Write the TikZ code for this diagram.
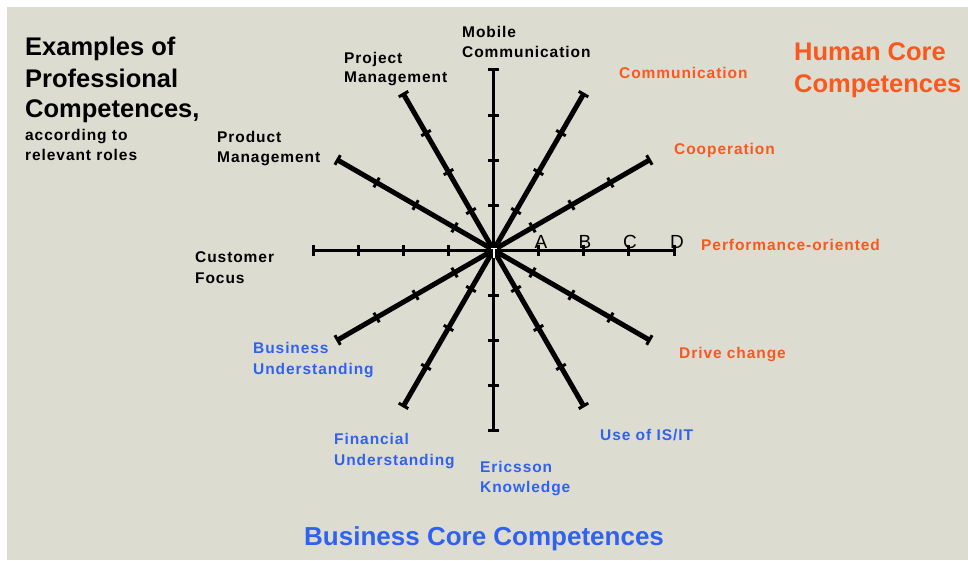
\documentclass[tikz,border=0pt]{standalone}
\usepackage{fontspec}
\setmainfont{Liberation Sans}
\definecolor{bg}{RGB}{221,220,209}
\definecolor{hc}{RGB}{250,88,28}
\definecolor{bc}{RGB}{48,98,240}
\tikzset{
  lbl/.style={anchor=base west, inner sep=0pt, font=\fontsize{15.5}{20}\selectfont\bfseries\addfontfeature{LetterSpace=6}},
  ttl/.style={anchor=base west, inner sep=0pt, font=\fontsize{25.5}{31}\selectfont\bfseries},
  axisline/.style={line width=3pt},
  diagline/.style={line width=5pt},
  tk/.style={line width=3pt},
  grade/.style={anchor=base, inner sep=0pt, font=\fontsize{19}{19}\selectfont}
}
\begin{document}
\begin{tikzpicture}[x=1pt,y=-1pt]
\useasboundingbox (0,0) rectangle (968,560);
\fill[white] (0,0) rectangle (968,560);
\fill[bg] (7,7) rectangle (968,560);
\coordinate (c) at (493.5,250);
% diagonal spokes
\foreach \a in {30,60,120,150,210,240,300,330} {
  \begin{scope}[shift={(c)},rotate=\a]
    \coordinate (e\a) at (180,0);
    \draw[diagline] (0,0) -- (e\a);
    \foreach \r in {45,90,135,180} \draw[tk] (\r,-5.5) -- (\r,5.5);
  \end{scope}
}
% axes
\foreach \a in {0,90,180,270} {
  \begin{scope}[shift={(c)},rotate=\a]
    \coordinate (e\a) at (180.5,0);
    \draw[axisline] (0,0) -- (e\a);
    \foreach \r in {45,90,135,180.5} \draw[tk] (\r,-5.5) -- (\r,5.5);
  \end{scope}
}
% white mark at the centre
\draw[white, line width=1.5pt] (491,248.5) -- (497,248.5);
\draw[white, line width=1.5pt] (494,248.5) -- (494,258);
% grades
\node[grade] (gA) at (541,248) {A};
\node[grade] (gB) at (585,248) {B};
\node[grade] (gC) at (630,248) {C};
\node[grade] (gD) at (677,248) {D};
% titles
\node[ttl] (t1) at (25,55) {Examples of};
\node[ttl] (t2) at (25,87) {Professional};
\node[ttl] (t3) at (25,117) {Competences,};
\node[lbl] (t4) at (25,140) {according to};
\node[lbl] (t5) at (25,160) {relevant roles};
\node[ttl, text=hc] (h1) at (794,60) {Human Core};
\node[ttl, text=hc] (h2) at (794,92) {Competences};
\node[ttl, text=bc, font=\fontsize{26}{31}\selectfont\bfseries] (b1) at (304,545) {Business Core Competences};
% professional labels
\node[lbl] (mob1) at (462,37) {Mobile};
\node[lbl] (mob2) at (462,57) {Communication};
\node[lbl] (prj1) at (344,63) {Project};
\node[lbl] (prj2) at (344,82) {Management};
\node[lbl] (prd1) at (217,142) {Product};
\node[lbl] (prd2) at (217,162) {Management};
\node[lbl] (cus1) at (195,262) {Customer};
\node[lbl] (cus2) at (195,283) {Focus};
% business labels
\node[lbl, text=bc] (bus1) at (253,353) {Business};
\node[lbl, text=bc] (bus2) at (253,374) {Understanding};
\node[lbl, text=bc] (fin1) at (334,444) {Financial};
\node[lbl, text=bc] (fin2) at (334,465) {Understanding};
\node[lbl, text=bc] (eri1) at (480,472) {Ericsson};
\node[lbl, text=bc] (eri2) at (480,492) {Knowledge};
\node[lbl, text=bc] (use1) at (600,440) {Use of IS/IT};
% human labels
\node[lbl, text=hc] (drv) at (679,358) {Drive change};
\node[lbl, text=hc] (prf) at (701,250) {Performance-oriented};
\node[lbl, text=hc] (coo) at (674,154) {Cooperation};
\node[lbl, text=hc] (com) at (619,78) {Communication};
\end{tikzpicture}
\end{document}
